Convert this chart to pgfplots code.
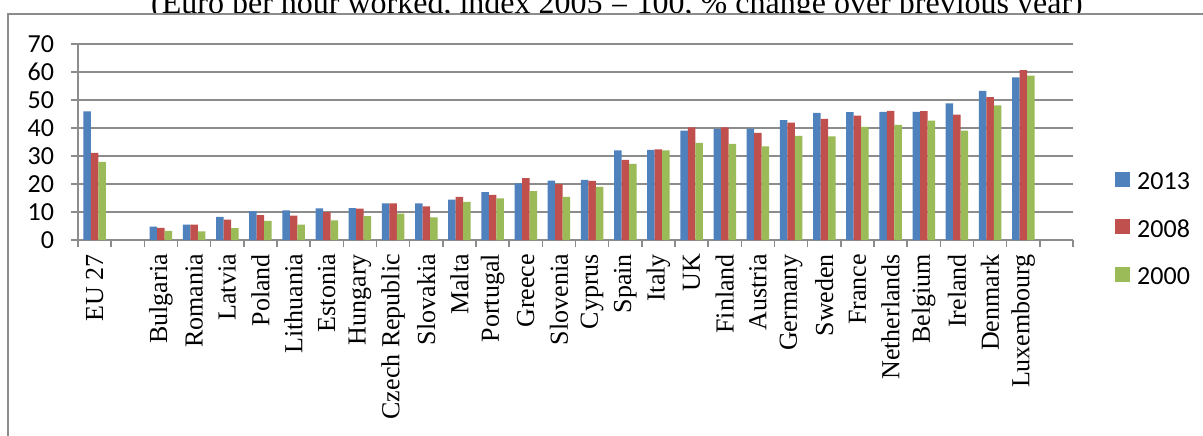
\documentclass[border=0pt]{standalone}
\usepackage{fontspec}
\setmainfont{Liberation Serif}
\newfontfamily\calfont{Carlito}
\usepackage{pgfplots}
\usepackage{pgfplotstable}
\pgfplotsset{compat=1.18}
\definecolor{xblue}{HTML}{4F81BD}
\definecolor{xred}{HTML}{C0504D}
\definecolor{xgreen}{HTML}{9BBB59}
\definecolor{gridgray}{HTML}{8C8C8C}
\pgfplotstableread{
x a b c
0 45.9 31.1 27.9
2 4.8 4.3 3.3
3 5.5 5.5 3.1
4 8.3 7.3 4.2
5 10.3 8.9 6.8
6 10.6 8.7 5.5
7 11.3 10.0 7.0
8 11.4 11.2 8.5
9 13.1 13.1 9.4
10 13.1 12.0 8.1
11 14.4 15.4 13.6
12 17.1 16.1 14.9
13 20.2 22.1 17.5
14 21.2 20.0 15.4
15 21.5 21.1 19.0
16 32.0 28.6 27.2
17 32.2 32.4 32.0
18 39.1 40.2 34.7
19 39.7 40.2 34.3
20 39.8 38.3 33.4
21 42.8 41.9 37.2
22 45.4 43.3 37.0
23 45.7 44.4 40.4
24 45.8 46.1 41.1
25 45.8 46.0 42.6
26 48.8 44.8 39.1
27 53.3 51.0 48.1
28 58.1 60.7 58.7
}\data
\pgfplotsset{sq/.style={legend image code/.code={\fill[##1] (0pt,-3.15pt) rectangle (7.5pt,4.35pt);}}}
\begin{document}
\begin{tikzpicture}
\useasboundingbox (0,0) rectangle (601.5pt,217.5pt);
\node[anchor=base, font=\fontsize{16}{19}\selectfont, inner sep=0pt] at (308.5pt,210.85pt) {(Euro per hour worked, index 2005 = 100, \% change over previous year)};
\filldraw[fill=white, draw=gridgray, line width=1pt] (3.75pt,210.5pt) rectangle (620pt,-20pt);
\begin{axis}[
 at={(39pt,97.5pt)}, anchor=south west, scale only axis, width=497.5pt, height=98pt,
 xmin=-0.5, xmax=29.5, ymin=0, ymax=70, ytick={0,10,...,70},
 enlargelimits=false,
 axis x line*=bottom, axis y line*=left,
 axis line style={draw=gridgray, line width=0.75pt},
 ymajorgrids, major grid style={draw=gridgray, line width=0.75pt},
 tick align=outside, major tick length=3.5pt,
 tick style={draw=gridgray, line width=0.75pt},
 xtick={-0.5,0.5,...,29.5}, xticklabels={},
 extra x ticks={0,1,...,29},
 extra x tick labels={{EU 27},{},Bulgaria,Romania,Latvia,Poland,Lithuania,Estonia,Hungary,Czech Republic,Slovakia,Malta,Portugal,Greece,Slovenia,Cyprus,Spain,Italy,UK,Finland,Austria,Germany,Sweden,France,Netherlands,Belgium,Ireland,Denmark,Luxembourg,{}},
 extra x tick style={major tick length=0pt, tick style={draw=none}},
 xticklabel style={yshift=-3.5pt, rotate=90, anchor=east, font=\fontsize{13}{15}\selectfont},
 yticklabel style={xshift=-5pt, font=\calfont\fontsize{13}{15}\selectfont},
 /pgf/number format/assume math mode=true,
 ybar=0pt, bar width=3.75pt,
 legend style={at={(axis description cs:1.042,0.061)}, anchor=west, draw=none, fill=none, inner sep=0pt, row sep=14.75pt, column sep=3.5pt, font=\calfont\fontsize{13}{15}\selectfont, nodes={inner sep=0pt, text height=9pt, text depth=0pt}},
 legend cell align=left,
]
\addplot[fill=xblue, draw=none, sq] table[x=x,y=a]{\data};
\addplot[fill=xred, draw=none, sq] table[x=x,y=b]{\data};
\addplot[fill=xgreen, draw=none, sq] table[x=x,y=c]{\data};
\legend{2013,2008,2000}
\end{axis}
\end{tikzpicture}
\end{document}
